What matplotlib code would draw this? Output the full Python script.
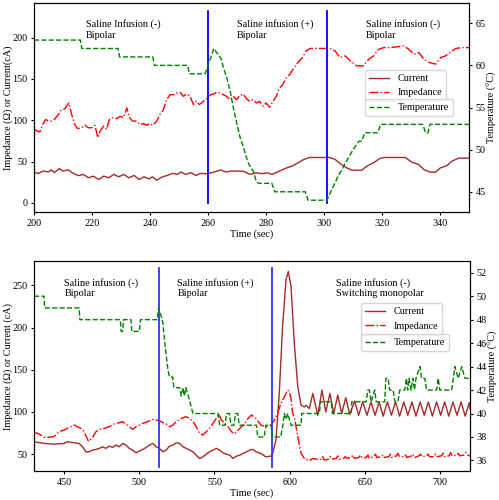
import numpy as np
import matplotlib
matplotlib.use("Agg")
import matplotlib.pyplot as plt

plt.rcParams['font.family'] = ['Liberation Serif', 'DejaVu Serif']
plt.rcParams['font.size'] = 7.3
plt.rcParams['mathtext.fontset'] = 'stix'
plt.rcParams['xtick.major.size'] = 2.5
plt.rcParams['ytick.major.size'] = 2.5
plt.rcParams['xtick.major.pad'] = 2.5
plt.rcParams['ytick.major.pad'] = 2

# ---------------- top panel data (200-350 s) ----------------
top_cur_t = [200, 201.5, 203.2, 205, 206, 207, 208.7, 210, 211.8, 213.6, 215.3, 217, 218.8, 220.5,
             222.3, 224, 225.8, 227.5, 229.2, 231, 232.7, 234.5, 236.2, 237.9, 239.7, 240.8, 242.3,
             244.3, 246, 247.7, 249.5, 250.6, 252.3, 254.1, 255.8, 257.5, 259.8, 262.1, 264.4, 266.2,
             267.9, 270.2, 272.2, 274.5, 276.5, 278.5, 280.5, 282, 283.7, 285.5, 287.1, 289, 291, 293,
             295, 302, 303.8, 305.5, 307.8, 309.6, 313, 314.7, 317, 319.3, 321, 328, 330.3, 332.6,
             334.4, 336.6, 338.4, 340.1, 342.4, 344.1, 346.4, 350]
top_cur_v = [37, 35.7, 38.6, 37.5, 40, 36.7, 41.5, 38.6, 40, 35.7, 33, 34.5, 30.4, 32.4,
             28.3, 32.4, 30.4, 34.5, 31.6, 34.5, 30.4, 33.3, 28.3, 31.6, 29.1, 31.6, 27.5,
             31.6, 33.3, 35.7, 34.5, 37.4, 34.5, 36.6, 33.3, 35.7, 35.3, 37.4, 39.8, 37.4,
             38.6, 38.6, 38.3, 34.5, 36.5, 35.5, 36.3, 34.5, 37, 40, 42.4, 44.5, 48.5, 52.5,
             55, 55, 52.6, 47.7, 42.4, 39.6, 39.6, 44.4, 48.5, 54, 55, 55, 49.3, 46.5,
             40.4, 37.2, 37.2, 42.4, 45.2, 50.5, 54.2, 54.2]

top_imp_t = [200, 201, 202, 203, 204, 205, 206, 207, 208.4, 209.5, 210.7, 211, 212, 213, 214, 215,
             216.4, 217.6, 218.7, 220, 221, 222, 222.8, 224, 225, 226, 227, 228.5, 229.7, 230.8,
             232, 233, 234, 235.4, 236.6, 237.7, 238.9, 240, 241, 242.3, 243.4, 244.6, 245.7, 246.9,
             248, 249.2, 250.3, 251.5, 252.6, 253.8, 255, 256, 257, 258.4, 259.3, 260, 261, 262,
             263, 264, 265.3, 266.4, 267.5, 268.7, 269.8, 271, 272.1, 273.3, 274.4, 275.5, 276.7,
             277.8, 279, 280, 281.2, 282.4, 283.5, 284.6, 285.7, 286.9, 288, 289.2, 290.3, 291.5,
             292.6, 293.8, 295.2, 302.1, 303.8, 305.5, 307.3, 309, 311.3, 313.6, 315.4, 317.1,
             318.8, 320.6, 322.9, 327.5, 329.2, 331, 332.7, 334.4, 336.2, 338.5, 340.2, 341.9,
             343.7, 345.4, 347.7, 350]
top_imp_v = [90, 87, 86, 95, 101, 99, 99, 101, 107, 113, 114, 116, 121, 107, 95, 90,
             91, 94, 91, 91, 94, 79, 87, 93, 89, 101, 103, 102, 105, 103,
             115, 103, 99, 99, 95, 96, 94, 96, 94, 99, 107, 113, 125, 131,
             131, 133, 134, 129, 132, 129, 119, 123, 119, 123, 125, 129, 131, 132,
             134, 133, 131, 129, 125, 129, 125, 130, 132, 126, 123, 125, 121,
             123, 117, 121, 116, 123, 129, 139, 143, 151, 155, 161, 167, 172,
             176, 184, 187, 187, 184, 176, 178, 172, 166, 166, 174, 178,
             186, 188, 188, 190, 186, 180, 182, 174, 170, 168, 176, 178,
             183, 187, 188, 188]

top_tmp_t = [200, 216, 216.5, 229, 229.5, 241, 241.5, 253, 253.5, 259, 260, 261, 262, 263, 264.5,
             265.5, 266.5, 267.6, 268.7, 270, 271, 272.2, 273.3, 274, 275.5, 276.7, 277.5, 282,
             283, 293.5, 294.5, 301, 302, 303, 304, 305, 306, 307, 308, 309, 310, 311, 312, 313,
             314, 315, 318.5, 319.5, 334, 335, 335.8, 336.5, 350]
top_tmp_v = [63, 63, 62, 62, 61, 61, 60, 60, 59, 59, 60, 61, 62, 61.5, 60.8,
             59.5, 58.5, 57, 55, 53, 51.5, 50.3, 49, 48.3, 47.5, 46.2, 46, 46,
             45, 45, 44, 44, 44.8, 45.5, 46.2, 47, 47.5, 48.2, 48.8, 49.4, 50, 50.5, 51, 51,
             52, 52, 52, 53, 53, 52, 52, 53, 53]

# ---------------- bottom panel data (430-720 s) ----------------
bot_cur_t = [430, 436.7, 443.4, 450, 452.3, 456.7, 460, 462.3, 464.5, 466.7, 469, 471.2, 473.4,
             475.6, 477.8, 480, 482.3, 484.5, 486.7, 489, 491.2, 493.4, 495.6, 497.9, 500.1, 502.3,
             504.5, 506.8, 509, 511.2, 513.4, 515.7, 517.9, 520.1, 522.3, 524.6, 526.8, 529, 531.2,
             533.5, 535.7, 537.9, 540.1, 542.4, 544.6, 546.8, 549, 551.3, 553.5, 555.7, 557.9,
             560.2, 562.4, 564.6, 566.8, 569.1, 571.3, 573.5, 575.7, 577.5, 580.9, 584.2, 587.6,
             588.7, 590.9, 593.1, 595.3, 597.6, 599.1, 600.9, 603.1, 605.4, 607.6, 609.8, 611,
             613.1, 615.4, 618.7, 621.5, 624, 626.8, 629.3, 632, 634.6, 637.3, 640, 643.2, 645.9,
             648.6, 651.4, 654.1, 656.8, 659.5, 662.2, 665, 667.7, 670.4, 673.1, 675.9, 678.6,
             681.3, 684, 686.8, 689.5, 692.2, 694.9, 697.7, 700.4, 703.1, 705.8, 708.6, 711.3,
             714, 716.7, 719.5, 720]
bot_cur_v = [64.6, 62.7, 61.9, 62.7, 64.6, 63.5, 62.7, 58.7, 52.8, 52.8, 54.8, 55.6, 56.8,
             58.7, 56.8, 59.5, 57.9, 60.7, 58.7, 62.7, 60.7, 56.8, 54.8, 51.6, 53.6, 55.6,
             57.9, 60.7, 62.7, 58.7, 56.8, 52.8, 54.8, 59.5, 60.7, 63.5, 62.7, 58.7, 56.8,
             54.8, 52.8, 48.8, 44.8, 46.8, 50, 52.8, 54.8, 56.8, 54.8, 51.6, 50,
             48.8, 44.8, 47.6, 48.8, 50.8, 52.8, 54.8, 55.6, 52.8, 50.8, 46.8, 47.6,
             50.8, 66.6, 122, 201, 257, 266.6, 249, 181.5, 130, 108, 106, 108,
             104, 122, 96, 126, 100, 122, 98, 120, 98, 117, 97, 113, 96,
             112, 96, 112, 96, 112, 95, 112, 96, 112, 95, 112, 96,
             112, 95, 112, 96, 112, 95, 112, 96, 112, 95, 112, 96,
             112, 95, 111, 104]

bot_imp_t = [430, 433.3, 436.7, 440, 443.4, 446.7, 450, 453.4, 456.7, 458.9, 462.3, 464.5, 466.3,
             469, 471.2, 473.4, 476.7, 480, 483.4, 486.7, 489, 491.2, 493.4, 495.6, 497.9, 500.1,
             502.3, 504.5, 506.8, 509, 511.2, 513.4, 515.7, 517.9, 520.1, 522.3, 524.6, 527.9,
             531.2, 533.5, 535.7, 537.9, 540.1, 542.4, 544.6, 546.8, 549, 551.3, 552.8, 554.6,
             556.8, 559, 561.3, 563.5, 565.7, 568, 570.2, 572.4, 574.6, 577.5, 580.9, 584.2,
             587.6, 589.8, 592, 594.2, 596.5, 598.7, 599.8, 600.9, 602, 603.1, 605.4, 607.6,
             609.8, 613.1, 615.4, 618.7, 621, 622, 623, 626, 627, 628, 631, 632, 633, 636, 637,
             638, 641, 642, 643, 646, 647, 648, 651, 652, 653, 656, 657, 658, 661, 662, 663, 666,
             667, 668, 671, 672, 673, 676, 677, 678, 681, 682, 683, 686, 687, 688, 691, 692, 693,
             696, 697, 698, 701, 702, 703, 706, 707, 708, 711, 712, 713, 716, 717, 718, 720]
bot_imp_v = [76, 74, 70, 70, 71, 76.6, 78.6, 81.4, 84.5, 82.5, 79.4, 72, 65,
             70, 76.6, 79.4, 80.6, 82.5, 85.7, 87.3, 88.5, 85.7, 82.5, 79.4, 82.5, 84.5,
             86.5, 87.7, 89.7, 91.2, 90.5, 89.7, 87.3, 85.7, 82.5, 84.5, 88.5, 92.4,
             94.4, 92.4, 88.5, 82.5, 74.7, 72.7, 76.6, 80.6, 86.5, 92.4, 97.6, 90.5,
             86.5, 82.5, 76.6, 73.9, 78.6, 82.5, 86.5, 92.4, 96.4, 92.4, 84.5, 82.5,
             84.5, 90.4, 98.4, 110.2, 118, 126, 124, 116, 98.4, 94.4, 70.7, 50.8,
             44.9, 42.1, 44.9, 43.7, 44, 47, 43, 44, 47, 44, 45, 48, 44, 45, 47,
             45, 46, 49, 45, 46, 49, 46, 46, 49, 45, 47, 50, 46, 47, 49, 46, 47,
             50, 46, 48, 51, 47, 47, 49, 46, 48, 50, 46, 48, 50, 47, 48, 50, 47,
             47, 50, 47, 48, 51, 47, 48, 52, 48, 49, 51, 48, 49, 52, 49, 48]

bot_tmp_t = [430, 436.7, 437, 460, 460.5, 487.4, 488, 489, 489.6, 494.5, 495, 500.1, 500.8, 512,
             512.8, 514.6, 515.7, 517.4, 519, 520.1, 522.3, 523, 526.8, 527.9, 529, 530, 531,
             533.5, 535.7, 552.4, 553.5, 557, 558, 560, 561, 563, 564, 565.5, 566.5, 578,
             578.7, 583.1, 584.2, 587.6, 588.7, 594, 595.5, 596.5, 597.7, 598.7, 600.9, 607.6,
             608, 619.8, 620.5, 627.6, 628.5, 640.9, 641.3, 650.9, 652, 653, 654.2, 656.5, 657.6,
             663.2, 664, 665.5, 666.5, 668.8, 670, 672, 673.2, 676.6, 677.6, 678.5, 679.4, 680.7,
             682, 683, 684, 686.6, 687.7, 689.9, 691, 697.7, 698.8, 699.9, 707.7, 708.8, 709.9,
             712.1, 714.4, 716.6, 720]
bot_tmp_v = [50, 50, 49, 49, 48, 48, 47, 47, 48, 48, 47, 47, 48, 48,
             49, 48.3, 47.7, 45.5, 43.8, 43.1, 43.1, 42.2, 42.2, 41.5, 42.2, 41.5, 42.2,
             41.1, 40, 40, 39, 39, 40, 40, 39, 39, 40, 40, 39, 39,
             38, 38, 39, 39, 38, 38, 39, 40, 39.5, 40, 39, 39,
             40, 40, 41, 41, 40, 40, 41, 41, 42, 42, 41, 42, 41,
             41, 43, 43, 42, 42, 41, 41, 42, 42, 43, 42, 43, 42,
             43, 42, 43, 44, 43, 43, 42, 42, 43, 42, 42, 43, 44,
             43, 44, 43, 43]

top_switch = [260, 301]
bot_switch = [513, 588]

fig = plt.figure(figsize=(4.99, 5.0), dpi=100)


def panel(rect, cur_t, cur_v, imp_t, imp_v, tmp_t, tmp_v, switches, vspan, ylab,
          xlim, ylim, y2lim, yticks, y2ticks, notes, leg1, leg2, vcol):
    ax = fig.add_axes(rect)
    l1, = ax.plot(cur_t, cur_v, color='brown', lw=1.0, label='Current')
    l2, = ax.plot(imp_t, imp_v, color='red', ls='-.', lw=1.0, label='Impedance')
    for s in switches:
        ax.plot([s, s], vspan, color=vcol, lw=1.3)
    ax.set_xlim(*xlim)
    ax.set_ylim(*ylim)
    ax.set_yticks(yticks)
    ax.set_xlabel('Time (sec)', labelpad=1)
    ax.set_ylabel(ylab)
    ax.yaxis.set_label_coords(-0.048, 0.5)
    for x, y, s in notes:
        ax.text(x, y, s, va='top', ha='left')
    ax2 = ax.twinx()
    l3, = ax2.plot(tmp_t, tmp_v, color='green', ls='--', lw=1.0, label='Temperature')
    ax2.set_ylim(*y2lim)
    ax2.set_yticks(y2ticks)
    ax2.set_ylabel('Temperature (°C)')
    ax2.yaxis.set_label_coords(1.041, 0.5)
    ax.legend(handles=[l1, l2], loc='upper left', bbox_to_anchor=leg1, borderaxespad=0)
    ax2.legend(handles=[l3], loc='upper left', bbox_to_anchor=leg2, borderaxespad=0)
    return ax, ax2


panel([0.0681, 0.576, 0.872, 0.418], top_cur_t, top_cur_v, top_imp_t, top_imp_v,
      top_tmp_t, top_tmp_v, top_switch, [0, 232], 'Impedance (Ω) or Current(cA)',
      (200, 350), (-11, 242), (42.6, 67.4), [0, 50, 100, 150, 200], [45, 50, 55, 60, 65],
      [(218, 222, 'Saline Infusion (-)\nBipolar'),
       (270, 222, 'Saline infusion (+)\nBipolar'),
       (314.4, 222, 'Saline infusion (-)\nBipolar')],
      (0.761, 0.679), (0.761, 0.541), 'blue')

panel([0.0681, 0.058, 0.874, 0.42], bot_cur_t, bot_cur_v, bot_imp_t, bot_imp_v,
      bot_tmp_t, bot_tmp_v, bot_switch, [35, 271], 'Impedance (Ω) or Current (cA)',
      (430, 720), (30, 279), (35.1, 53.0), [50, 100, 150, 200, 250],
      [36, 38, 40, 42, 44, 46, 48, 50, 52],
      [(450.2, 259, 'Saline infusion (-)\nBipolar'),
       (525.3, 259, 'Saline infusion (+)\nBipolar'),
       (631, 259, 'Saline infusion (-)\nSwitching monopolar')],
      (0.75, 0.799), (0.75, 0.652), '#3333ff')

fig.savefig('out.png', dpi=100)
